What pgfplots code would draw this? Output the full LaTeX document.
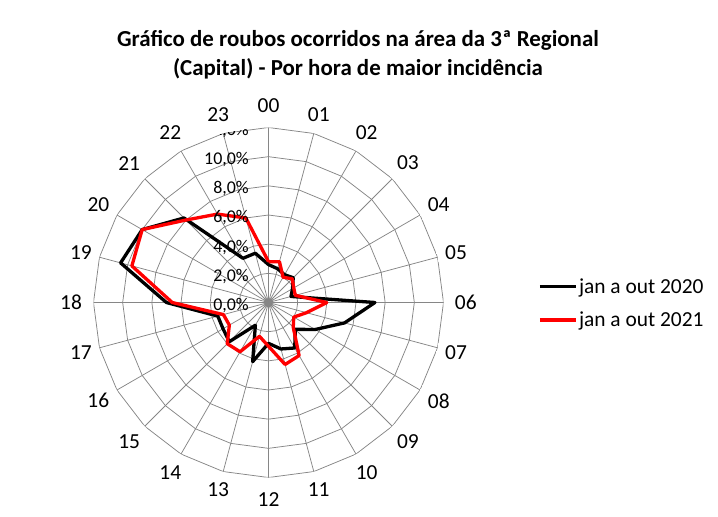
\documentclass[border=0pt]{standalone}
\usepackage{fontspec}
\setmainfont{Carlito}
\usepackage{pgfplots}
\pgfplotsset{compat=1.18}
\usepackage{pgfplotstable}
\usepgfplotslibrary{polar}
\definecolor{gridgray}{RGB}{134,134,134}
\definecolor{xlred}{RGB}{255,0,0}

% angle = 90 - 15*hour (mathematical angle); values in percent
\pgfplotstableread{
ang hour v2020 v2021
90  00 2.6  2.8
75  01 2.4  2.9
60  02 2.2  2.0
45  03 2.4  2.3
30  04 1.9  2.0
15  05 1.6  1.9
0   06 7.3  4.0
345 07 5.4  2.7
330 08 3.7  2.0
315 09 2.6  2.4
300 10 3.6  4.2
285 11 3.3  4.4
270 12 2.8  3.0
255 13 4.2  2.4
240 14 1.8  3.9
225 15 3.8  4.0
210 16 3.6  3.1
195 17 3.6  3.2
180 18 7.0  6.6
165 19 10.5 9.7
150 20 10.0 10.0
135 21 8.2  8.0
120 22 3.5  7.0
105 23 3.5  6.0
90  00 2.6  2.8
}\radar

\begin{document}
\begin{tikzpicture}
\path[use as bounding box] (0,0) rectangle (718bp,-517bp);
\node[font=\fontsize{23}{29}\selectfont\bfseries, align=center, inner sep=0pt] at (358bp,-55bp)
  {Gráfico de roubos ocorridos na área da 3ª Regional\\(Capital) - Por hora de maior incidência};
\begin{polaraxis}[
  at={(268.5bp,-302.5bp)}, anchor=center,
  scale only axis, width=350bp, height=350bp,
  xmin=0, xmax=360, ymin=0, ymax=12,
  xtick={0,15,...,345},
  xticklabels={06,05,04,03,02,01,00,23,22,21,20,19,18,17,16,15,14,13,12,11,10,09,08,07},
  ytick=\empty,
  xmajorgrids, ymajorgrids=false,
  major grid style={gridgray, line width=0.75bp},
  axis line style={draw=none},
  major tick length=0pt,
  xticklabel style={font=\fontsize{21.5}{25}\selectfont, shape=circle, inner sep=6.5bp},
  legend style={draw=none, fill=none, at={(1.27,0.4977)}, anchor=west,
    font=\fontsize{21.5}{25}\selectfont, row sep=14bp, inner sep=0pt,
    nodes={inner sep=1.5bp}},
  legend cell align=left,
  legend image code/.code={\draw[#1] (0bp,0bp) -- (36bp,0bp);},
]
\pgfplotsinvokeforeach{2,4,6,8,10,12}{
  \draw[gridgray, line width=0.75bp] (axis cs:0,#1) \foreach \a in {15,30,...,345}{ -- (axis cs:\a,#1)} -- cycle;
}
\addplot[black, mark=none, line width=3.3bp, line join=round] table[x=ang, y=v2020] {\radar};
\addlegendentry{jan a out 2020}
\addplot[xlred, mark=none, line width=3.3bp, line join=round] table[x=ang, y=v2021] {\radar};
\addlegendentry{jan a out 2021}
\pgfplotsinvokeforeach{0,2,...,12}{
  \node[anchor=east, inner sep=0pt, font=\fontsize{18}{20}\selectfont] at ([xshift=-19.5bp, yshift=-3bp]axis cs:90,#1) {#1,0\%};
}
\end{polaraxis}
\end{tikzpicture}
\end{document}
